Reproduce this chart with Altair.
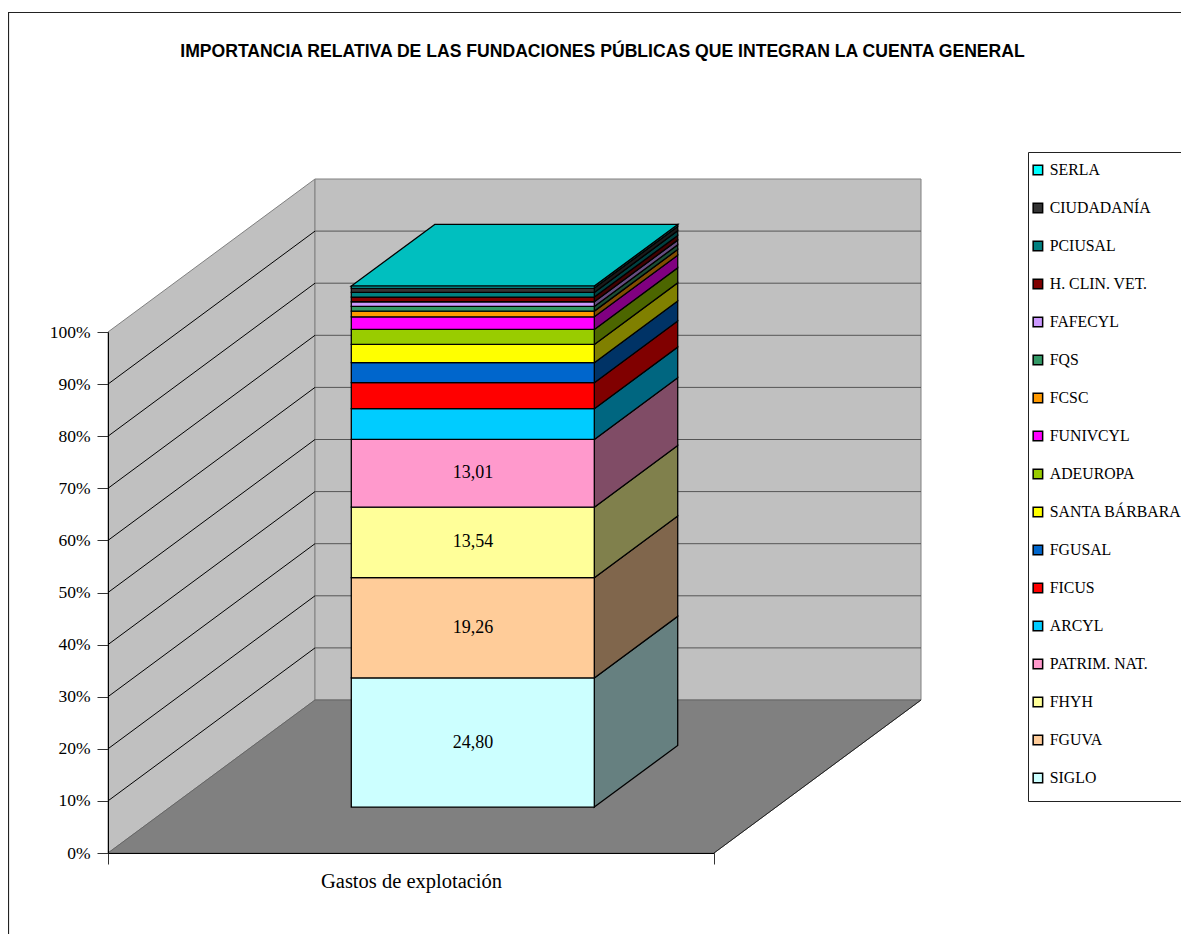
import altair as alt
import pandas as pd

# ---- values -----------------------------------------------------------
series = ["SIGLO", "FGUVA", "FHYH", "PATRIM. NAT.", "ARCYL", "FICUS", "FGUSAL",
          "SANTA BÁRBARA", "ADEUROPA", "FUNIVCYL", "FCSC", "FQS", "FAFECYL",
          "H. CLIN. VET.", "PCIUSAL", "CIUDADANÍA", "SERLA"]
values = [24.80, 19.26, 13.54, 13.01, 5.90, 5.00, 3.84, 3.50, 2.88, 2.43,
          1.09, 0.90, 0.90, 0.90, 0.90, 0.83, 0.38]
colors = ["#CCFFFF", "#FFCC99", "#FFFF99", "#FF99CC", "#00CCFF", "#FF0000",
          "#0066CC", "#FFFF00", "#99CC00", "#FF00FF", "#FF9900", "#339966",
          "#CC99FF", "#800000", "#008080", "#333333", "#00FFFF"]
labelled = {"SIGLO": "24,80", "FGUVA": "19,26", "FHYH": "13,54", "PATRIM. NAT.": "13,01"}
category = "Gastos de explotación"
title = "IMPORTANCIA RELATIVA DE LAS FUNDACIONES PÚBLICAS QUE INTEGRAN LA CUENTA GENERAL"
grid_levels = [10, 20, 30, 40, 50, 60, 70, 80, 90]

# ---- oblique projection: depth 0 = front plane, 1 = back wall ----------
DX = 207 / 606      # x units per unit of depth
DY = 153 / 521 * 100  # percent units per unit of depth
BAR_X0, BAR_X1 = 0.299, 0.700
BAR_D0, BAR_D1 = 0.300, 0.703
SERIF = "Liberation Serif"


def px(x, depth):
    return x + depth * DX


def py(pct, depth):
    return pct + depth * DY


def shade(hex_color, k):
    r, g, b = (int(hex_color[i:i + 2], 16) for i in (1, 3, 5))
    return "#%02X%02X%02X" % (round(r * k), round(g * k), round(b * k))


total = sum(values)
front, side, labels = [], [], []
cum = 0.0
for name, v, c in zip(series, values, colors):
    lo, hi = cum / total * 100, (cum + v) / total * 100
    cum += v
    front.append(dict(series=name, x=px(BAR_X0, BAR_D0), x2=px(BAR_X1, BAR_D0),
                      y=py(lo, BAR_D0), y2=py(hi, BAR_D0)))
    for d in (BAR_D0, BAR_D1):
        side.append(dict(series=name, fill=shade(c, 0.5), x=px(BAR_X1, d),
                         y=py(lo, d), y2=py(hi, d)))
    if name in labelled:
        labels.append(dict(text=labelled[name], x=px(0.5, BAR_D0), y=py((lo + hi) / 2, BAR_D0)))

top_face = pd.DataFrame([dict(y=py(100, d), x=px(BAR_X0, d), x2=px(BAR_X1, d), fill=shade(colors[-1], 0.75))
                         for d in (BAR_D0, BAR_D1)])
left_wall = pd.DataFrame([dict(x=px(0, d), y=py(0, d), y2=py(100, d)) for d in (0, 1)])
back_wall = pd.DataFrame([dict(x=px(0, 1), x2=px(1, 1), y=py(0, 1), y2=py(100, 1))])
floor = pd.DataFrame([dict(y=py(0, d), x=px(0, d), x2=px(1, d)) for d in (0, 1)])
floor_edge = pd.DataFrame([dict(x=px(1, d), y=py(0, d)) for d in (0, 1)])
grid_left = pd.DataFrame([dict(level=g, x=px(0, d), y=py(g, d)) for g in grid_levels for d in (0, 1)])
grid_back = pd.DataFrame([dict(level=g, x=px(x, 1), y=py(g, 1)) for g in grid_levels for x in (0, 1)])

xs = alt.Scale(domain=[0, 1], nice=False, zero=False)
ys = alt.Scale(domain=[0, 100], nice=False, zero=False)
X = lambda f="x": alt.X(f"{f}:Q", scale=xs, axis=None)
Y = lambda f="y": alt.Y(f"{f}:Q", scale=ys, axis=None)
anchor = pd.DataFrame({"x": [0], "y": [0]})

frame = alt.Chart(anchor).mark_rect(fill="white", stroke="#222222", strokeWidth=1.2).encode(
    x=alt.value(-99.5), x2=alt.value(1200), y=alt.value(-319.5), y2=alt.value(800))
legend_box = alt.Chart(anchor).mark_rect(fill="white", stroke="#222222", strokeWidth=1).encode(
    x=alt.value(920.5), x2=alt.value(1200), y=alt.value(-179.5), y2=alt.value(469.5))
title_mark = alt.Chart(anchor).mark_text(font="Liberation Sans", fontSize=17.6, fontWeight="bold",
                                         color="#000000").encode(
    x=alt.value(494.5), y=alt.value(-280), text=alt.value(title))

layers = [
    frame,
    legend_box,
    title_mark,
    alt.Chart(left_wall).mark_area(fill="#C0C0C0", stroke="#808080", strokeWidth=1).encode(
        x=X(), y=Y(), y2="y2:Q"),
    alt.Chart(back_wall).mark_rect(fill="#C0C0C0", stroke="#808080", strokeWidth=1).encode(
        x=X(), x2="x2:Q", y=Y(), y2="y2:Q"),
    alt.Chart(floor).mark_area(orient="horizontal", fill="#808080", stroke="#666666", strokeWidth=1).encode(
        y=Y(), x=X(), x2="x2:Q"),
    alt.Chart(floor_edge).mark_line(color="#222222", strokeWidth=1).encode(x=X(), y=Y()),
    alt.Chart(grid_left).mark_line(color="#000000", strokeWidth=1).encode(x=X(), y=Y(), detail="level:N"),
    alt.Chart(grid_back).mark_line(color="#555555", strokeWidth=1).encode(x=X(), y=Y(), detail="level:N"),
    alt.Chart(pd.DataFrame(side)).mark_area(stroke="#000000", strokeWidth=1.3).encode(
        x=X(), y=Y(), y2="y2:Q", fill=alt.Fill("fill:N", scale=None), detail="series:N"),
    alt.Chart(top_face).mark_area(orient="horizontal", stroke="#000000", strokeWidth=1.3).encode(
        y=Y(), x=X(), x2="x2:Q", fill=alt.Fill("fill:N", scale=None)),
    alt.Chart(pd.DataFrame(front)).mark_rect(stroke="#000000", strokeWidth=1.3).encode(
        x=X(), x2="x2:Q", y=Y(), y2="y2:Q",
        color=alt.Color("series:N",
                        scale=alt.Scale(domain=series[::-1], range=colors[::-1]),
                        legend=alt.Legend(title=None, orient="none", legendX=922, legendY=-170,
                                          symbolType="square", symbolSize=90,
                                          symbolStrokeColor="#000000", symbolStrokeWidth=1.5,
                                          labelFont=SERIF, labelFontSize=15.8, labelColor="#000000",
                                          labelLimit=300, rowPadding=21, labelOffset=4, padding=0))),
    alt.Chart(pd.DataFrame(labels)).mark_text(font=SERIF, fontSize=18, color="#000000").encode(
        x=X(), y=Y(), text="text:N"),
    # real axes, on the front plane of the 3-D box
    alt.Chart(anchor).mark_point(opacity=0).encode(
        x=alt.X("x:Q", scale=xs, axis=alt.Axis(orient="bottom", values=[0, 1], labels=False, grid=False, title=category,
                                               titleFont=SERIF, titleFontSize=20.5, titleFontWeight="normal",
                                               titleColor="#000000", titlePadding=7, tickSize=11,
                                               tickColor="#333333", domainColor="#000000", zindex=1)),
        y=alt.Y("y:Q", scale=ys, axis=alt.Axis(orient="left", values=[0, 10, 20, 30, 40, 50, 60, 70, 80, 90, 100],
                                               labelExpr="datum.value + '%'", grid=False, title=None,
                                               labelFont=SERIF, labelFontSize=17.5, labelColor="#000000",
                                               tickSize=11, tickColor="#333333", domainColor="#000000",
                                               labelPadding=7, zindex=1))),
]

chart = alt.layer(*layers).resolve_axis(x="independent", y="independent").properties(
    width=606, height=521,
    padding={"left": 100, "top": 324, "right": 467, "bottom": 81},
    autosize=alt.AutoSizeParams(type="none"),
).configure_view(stroke=None)

chart.save("out.html", embed_options={"renderer": "svg", "actions": False})
